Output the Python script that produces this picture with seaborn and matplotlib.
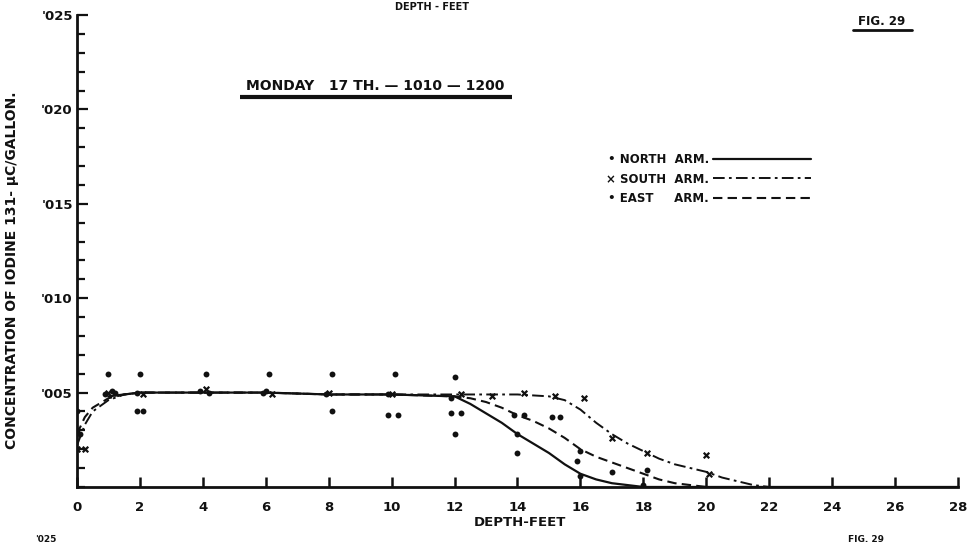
import matplotlib
matplotlib.use("Agg")
import matplotlib.pyplot as plt
from matplotlib.ticker import MultipleLocator
import seaborn as sns

# ---- fitted curves (depth in feet, concentration in uc/gallon) ----
north_curve_depth = [1, 1.5, 2, 4, 6, 8, 10, 12, 12.5, 13, 13.5, 14, 14.5, 15, 15.5, 16,
                     16.5, 17, 17.5, 18, 20, 22, 24, 26, 28]
north_curve_conc = [0.0048, 0.0049, 0.0050, 0.0050, 0.0050, 0.0049, 0.0049, 0.0048, 0.0044,
                    0.0039, 0.0034, 0.0028, 0.0023, 0.0018, 0.0012, 0.0007, 0.0004, 0.0002,
                    0.0001, 0.0, 0.0, 0.0, 0.0, 0.0, 0.0]

south_curve_depth = [0, 0.25, 0.5, 1, 1.5, 2, 4, 6, 8, 10, 12, 13, 14, 15, 15.5, 16, 16.5,
                     17, 17.5, 18, 18.5, 19, 19.5, 20, 20.5, 21, 21.5, 22]
south_curve_conc = [0.0022, 0.0033, 0.0040, 0.0046, 0.0049, 0.0050, 0.0050, 0.0050, 0.0049,
                    0.0049, 0.0049, 0.0049, 0.0049, 0.0048, 0.0046, 0.0041, 0.0034, 0.0028,
                    0.0023, 0.0019, 0.0015, 0.0012, 0.0010, 0.0008, 0.0005, 0.0003, 0.0001, 0.0]

east_curve_depth = [0, 0.25, 0.5, 1, 1.5, 2, 4, 6, 8, 10, 12, 12.5, 13, 13.5, 14, 14.5, 15,
                    15.5, 16, 16.5, 17, 17.5, 18, 18.5, 19, 19.5, 20]
east_curve_conc = [0.0028, 0.0037, 0.0042, 0.0047, 0.0049, 0.0050, 0.0050, 0.0050, 0.0049,
                   0.0049, 0.0048, 0.0047, 0.0045, 0.0042, 0.0038, 0.0035, 0.0031, 0.0026,
                   0.0020, 0.0016, 0.0013, 0.0010, 0.0007, 0.0004, 0.0002, 0.0001, 0.0]

# ---- sample readings ----
north_obs_depth = [0, 0, 0.9, 1.1, 1.0, 1.9, 2.0, 3.9, 4.1, 5.9, 6.1, 7.9, 8.1, 9.9, 10.1,
                   11.9, 12.0, 12.0, 14.0, 14.0, 16.0, 15.9, 18.0]
north_obs_conc = [0.0030, 0.0040, 0.0049, 0.0051, 0.0060, 0.0050, 0.0060, 0.0051, 0.0060,
                  0.0050, 0.0060, 0.0049, 0.0060, 0.0049, 0.0060, 0.0047, 0.0058, 0.0028,
                  0.0028, 0.0018, 0.0006, 0.0014, 0.0001]

south_obs_depth = [0.0, 0.25, 1.0, 2.1, 4.1, 6.2, 8.0, 10.0, 12.2, 13.2, 14.2, 15.2, 16.1,
                   17.0, 18.1, 20.1, 20.0]
south_obs_conc = [0.0020, 0.0020, 0.0050, 0.0049, 0.0052, 0.0049, 0.0050, 0.0049, 0.0049,
                  0.0048, 0.0050, 0.0048, 0.0047, 0.0026, 0.0018, 0.0007, 0.0017]

east_obs_depth = [0.1, 1.2, 1.9, 2.1, 4.2, 6.0, 8.1, 9.9, 10.2, 11.9, 12.2, 13.9, 14.2,
                  15.1, 15.35, 16.0, 17.0, 18.1]
east_obs_conc = [0.0028, 0.0050, 0.0040, 0.0040, 0.0050, 0.0051, 0.0040, 0.0038, 0.0038,
                 0.0039, 0.0039, 0.0038, 0.0038, 0.0037, 0.0037, 0.0019, 0.0008, 0.0009]

x_ticks = list(range(0, 29, 2))
x_tick_labels = [str(v) for v in x_ticks]
y_ticks = [0.005, 0.010, 0.015, 0.020, 0.025]
y_tick_labels = ["'005", "'010", "'015", "'020", "'025"]

legend_labels = ["\u2022 NORTH  ARM.", "\u00d7 SOUTH  ARM.", "\u2022 EAST     ARM."]

# ---- styling ----
sns.set_style("ticks")
plt.rcParams["font.family"] = ["DejaVu Sans"]
plt.rcParams["font.weight"] = "bold"

fig = plt.figure(figsize=(9.73, 5.46), dpi=100)
ax = fig.add_axes([0.0791, 0.1081, 0.9055, 0.8644])

INK = "#111111"

sns.lineplot(x=north_curve_depth, y=north_curve_conc, ax=ax, color=INK,
             lw=1.6, sort=False, estimator=None)
ln_north = ax.lines[-1]
sns.lineplot(x=south_curve_depth, y=south_curve_conc, ax=ax, color=INK,
             lw=1.4, sort=False, estimator=None)
ln_south = ax.lines[-1]
ln_south.set_dashes((6, 2.2, 1.4, 2.2))
sns.lineplot(x=east_curve_depth, y=east_curve_conc, ax=ax, color=INK,
             lw=1.5, sort=False, estimator=None)
ln_east = ax.lines[-1]
ln_east.set_dashes((4.5, 2.5))

sns.scatterplot(x=north_obs_depth, y=north_obs_conc, ax=ax, color=INK, marker="o",
                s=18, edgecolor=INK, linewidth=0, zorder=4)
sns.scatterplot(x=south_obs_depth, y=south_obs_conc, ax=ax, color=INK, marker="x",
                s=16, linewidth=1.6, zorder=4)
sns.scatterplot(x=east_obs_depth, y=east_obs_conc, ax=ax, color=INK, marker="o",
                s=18, edgecolor=INK, linewidth=0, zorder=4)

ax.set_xlim(0, 28)
ax.set_ylim(0, 0.025)

for side in ("top", "right"):
    ax.spines[side].set_visible(False)
for side in ("left", "bottom"):
    ax.spines[side].set_linewidth(2.0)
    ax.spines[side].set_color(INK)

ax.set_xticks(x_ticks)
ax.set_xticklabels(x_tick_labels, fontsize=9.5, fontweight="heavy", color=INK)
ax.set_yticks(y_ticks)
ax.set_yticklabels(y_tick_labels, fontsize=9.5, fontweight="heavy", color=INK)
ax.yaxis.set_minor_locator(MultipleLocator(0.001))
ax.tick_params(axis="x", which="major", direction="in", length=7, width=1.8,
               pad=10, colors=INK)
ax.tick_params(axis="y", which="major", direction="in", length=8, width=1.6,
               pad=3, colors=INK)
ax.tick_params(axis="y", which="minor", direction="in", length=6, width=1.6, colors=INK)

ax.set_xlabel("DEPTH-FEET", fontsize=9.5, fontweight="heavy", color=INK)
ax.xaxis.set_label_coords(0.503, -0.062)
ax.set_ylabel("CONCENTRATION OF IODINE 131- \u00b5C/GALLON.", fontsize=10,
              fontweight="heavy", color=INK)
ax.yaxis.set_label_coords(-0.066, 0.46)

# heading with its underline
ax.text(0.339, 0.835, "MONDAY   17 TH. \u2014 1010 \u2014 1200", transform=ax.transAxes,
        ha="center", va="bottom", fontsize=10, fontweight="heavy", color=INK)
ax.plot([0.185, 0.494], [0.826, 0.826], transform=ax.transAxes, color=INK, lw=3,
        solid_capstyle="butt", clip_on=False)

# figure number
fig.text(0.906, 0.948, "FIG. 29", ha="center", va="bottom", fontsize=8.5,
         fontweight="heavy", color=INK)
fig.add_artist(plt.Line2D([0.877, 0.937], [0.945, 0.945], color=INK, lw=2))

# running heading at the page top and page-edge text below
fig.text(0.444, 0.997, "DEPTH - FEET", ha="center", va="top", fontsize=7,
         fontweight="heavy", color=INK)
fig.text(0.047, 0.003, "'025", ha="center", va="bottom", fontsize=6.5,
         fontweight="heavy", color=INK)
fig.text(0.89, 0.003, "FIG. 29", ha="center", va="bottom", fontsize=6.5,
         fontweight="heavy", color=INK)

leg = ax.legend([ln_north, ln_south, ln_east], legend_labels, loc="upper left",
                bbox_to_anchor=(0.594, 0.72), frameon=False, markerfirst=False,
                handlelength=8.3, handletextpad=0.3, labelspacing=0.55, borderpad=0,
                prop={"size": 8.5, "weight": "heavy"})
for t in leg.get_texts():
    t.set_color(INK)

fig.savefig("out.png", dpi=100, facecolor="white")
